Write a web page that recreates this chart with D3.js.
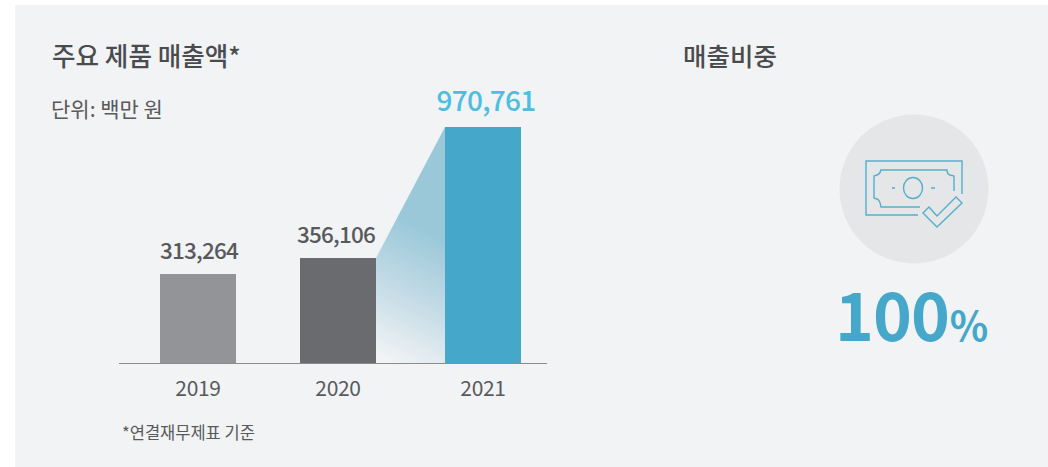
<!DOCTYPE html>
<html><head><meta charset="utf-8">
<script src="https://cdn.jsdelivr.net/npm/d3@7"></script>
<style>html,body{margin:0;padding:0;background:#fff;overflow:hidden}svg{display:block}text{font-family:"Noto Sans CJK KR","Noto Sans",sans-serif}</style>
</head><body><svg id="c" width="1048" height="467"></svg>
<script>
const years = ["2019","2020","2021"];
const sales = [313264,356106,970761];
const barColors = ["#929497","#6a6b6f","#45a7c9"];
const labelColors = ["#58595b","#58595b","#4dbde2"];
const axisDomain = [0,313264,356106,970761];
const axisRange = [363,274,258,127];
const title = "주요 제품 매출액*", unit = "단위: 백만 원", note = "*연결재무제표 기준", rightTitle = "매출비중", share = "100", pct = "%";

const svg = d3.select("#c");
svg.append("rect").attr("x",15).attr("y",5).attr("width",1033).attr("height",462).attr("fill","#f1f3f5");
const xb = d3.scaleOrdinal().domain(years).range([198,338,483]);
const y = d3.scaleLinear().domain(axisDomain).range(axisRange);
const bw = 76;
const labelShift = [1,-2,3];

const defs = svg.append("defs");
const g = defs.append("linearGradient").attr("id","fan").attr("gradientUnits","userSpaceOnUse")
  .attr("x1",405).attr("y1",368).attr("x2",465).attr("y2",250);
g.append("stop").attr("offset",0).attr("stop-color","#f1f3f5");
g.append("stop").attr("offset",0.5).attr("stop-color","#c4dbe6");
g.append("stop").attr("offset",1).attr("stop-color","#9ac8d9");
const [a,b] = [years[1],years[2]];
svg.append("path").attr("fill","url(#fan)").attr("d",d3.line()([
  [xb(a)+bw/2,y(sales[1])],[xb(b)-bw/2,y(sales[2])],[xb(b)-bw/2,y(0)],[xb(a)+bw/2,y(0)]]));

years.forEach((d,i)=>{
  svg.append("rect").attr("x",xb(d)-bw/2).attr("y",y(sales[i])).attr("width",bw).attr("height",y(0)-y(sales[i])).attr("fill",barColors[i]);
  svg.append("text").attr("x",xb(d)+labelShift[i]).attr("y",y(sales[i])-(i==2?16:15)).attr("text-anchor","middle")
    .attr("font-size",i==2?28:22.5).attr("font-weight",500).attr("letter-spacing",i==2?-0.7:-0.8).attr("fill",labelColors[i]).text(d3.format(",")(sales[i]));
  svg.append("text").attr("x",xb(d)).attr("y",396).attr("text-anchor","middle").attr("font-size",21).attr("letter-spacing",-0.3).attr("fill","#58595b").text(d);
});
svg.append("line").attr("x1",119).attr("x2",547).attr("y1",363.5).attr("y2",363.5).attr("stroke","#8a8c8e").attr("stroke-width",1.2);

const t=(s,xx,yy,fs,w,f)=>svg.append("text").attr("x",xx).attr("y",yy).attr("font-size",fs).attr("font-weight",w).attr("fill",f).text(s);
t(title,52,66,25.6,500,"#4a4b4d");
t(unit,51,117,21,400,"#58595b");
t(note,122,439,16.5,400,"#58595b");
t(rightTitle,683,66,25.5,500,"#4a4b4d");

svg.append("circle").attr("cx",914).attr("cy",189).attr("r",74.5).attr("fill","#e5e6e8");
const ic = svg.append("g").attr("fill","none").attr("stroke","#56aecb").attr("stroke-width",1.4).attr("transform","translate(820,100)");
ic.append("path").attr("d","M142 94V61H46V115H98");
ic.append("path").attr("d","M134 91V76L130 75Q127 74 127 70H61Q60 74 57 75L54 76V98L57 99Q60 100 61 107H100");
ic.append("ellipse").attr("cx",93).attr("cy",88).attr("rx",9.5).attr("ry",10.5);
ic.append("path").attr("d","M72 88H75M111 88H115");
ic.append("path").attr("d","M136 97L142 103L117 127L103 113L109 107L117 116Z");

svg.append("text").attr("x",835).attr("y",341).attr("font-size",66).attr("font-weight",700).attr("fill","#45a7c9").attr("letter-spacing",-1).text(share)
 .append("tspan").attr("font-size",40).attr("font-weight",700).attr("dx",1).text(pct);
</script></body></html>
